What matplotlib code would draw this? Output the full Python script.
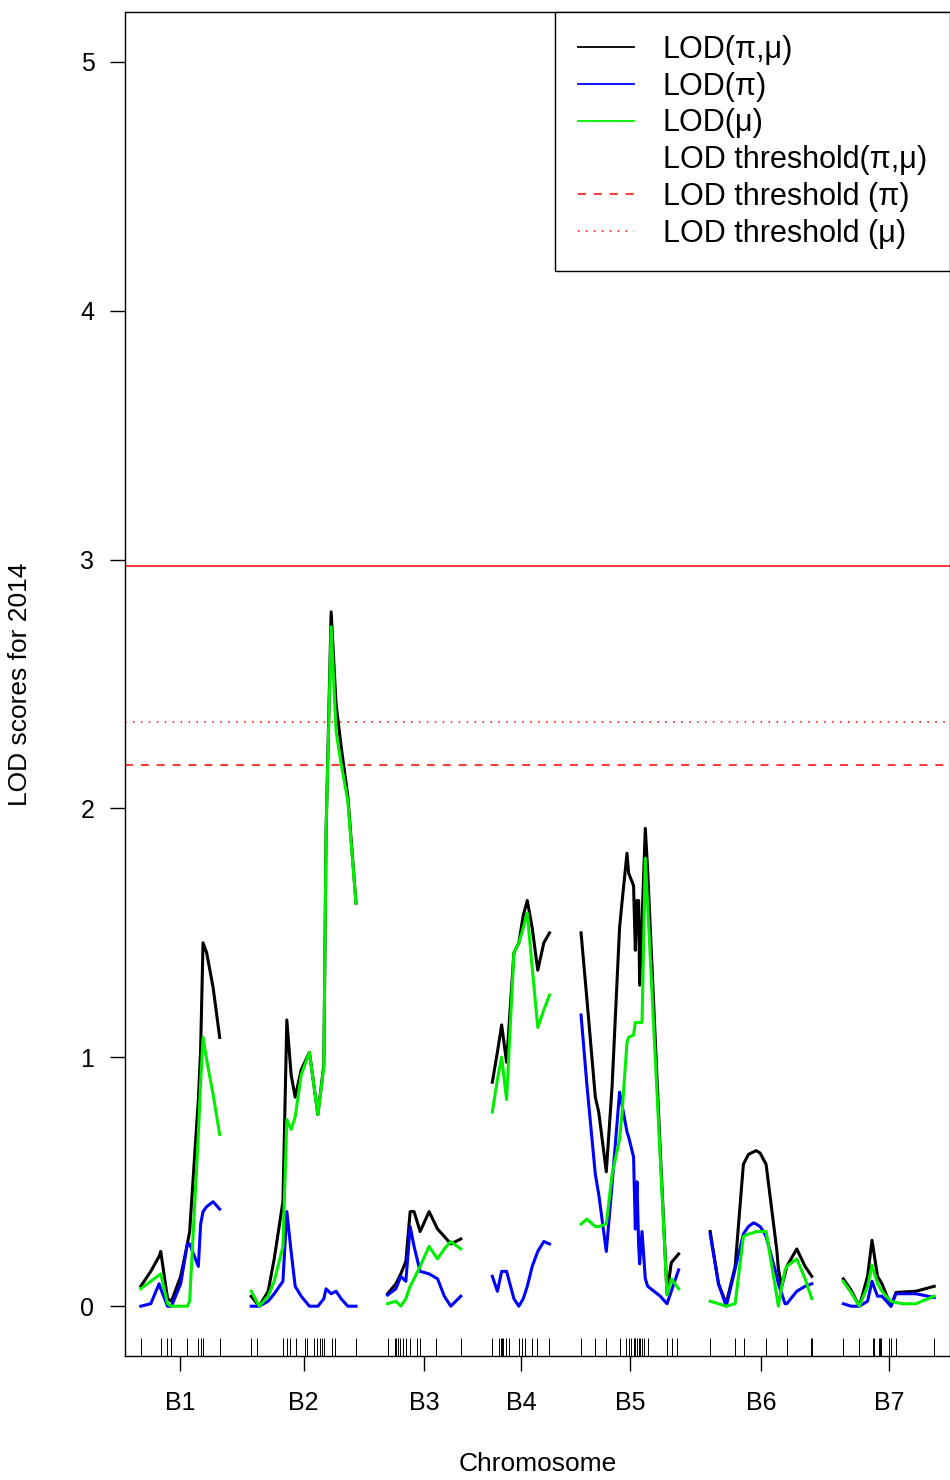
import numpy as np
import matplotlib.pyplot as plt
from matplotlib.lines import Line2D

plt.rcParams['font.family'] = ['Liberation Sans', 'DejaVu Sans']

chroms = ['B1', 'B2', 'B3', 'B4', 'B5', 'B6', 'B7']

# positions (cM) and LOD scores for each chromosome
b1_pos = [0, 7.9, 14.5, 15.8, 21.2, 24.3, 31.6, 36.9, 38.7, 45.6, 47.4, 49.3, 52.2, 57.3, 62.5]
b1_pm = [0.08, 0.14, 0.20, 0.22, 0.03, 0.02, 0.12, 0.25, 0.30, 0.83, 1.03, 1.46, 1.42, 1.28, 1.08]
b1_p = [0.0, 0.01, 0.09, 0.07, 0.0, 0.0, 0.09, 0.25, 0.25, 0.16, 0.33, 0.38, 0.40, 0.42, 0.39]
b1_m = [0.07, 0.10, 0.125, 0.13, 0.01, 0.0, 0.0, 0.0, 0.02, 0.69, 0.90, 1.08, 0.99, 0.85, 0.69]
b1_mk = [0, 15.8, 21.1, 24.3, 36.9, 45.6, 47.4, 49.5, 62.5]

b2_pos = [0, 6.3, 13.4, 18.2, 25.1, 28.2, 31.6, 34.8, 39.6, 46.1, 52.8, 57.5, 59.3, 63.3, 67.2, 71.2, 76.5, 83.0]
b2_pm = [0.04, 0.0, 0.06, 0.19, 0.42, 1.15, 0.93, 0.84, 0.95, 1.02, 0.77, 0.97, 1.91, 2.79, 2.42, 2.25, 2.05, 1.62]
b2_p = [0.0, 0.0, 0.02, 0.05, 0.10, 0.38, 0.22, 0.08, 0.04, 0.0, 0.0, 0.03, 0.07, 0.05, 0.06, 0.03, 0.0, 0.0]
b2_m = [0.06, 0.0, 0.04, 0.10, 0.24, 0.75, 0.71, 0.76, 0.93, 1.02, 0.77, 0.96, 1.91, 2.73, 2.31, 2.18, 2.03, 1.62]
b2_mk = [0, 4.4, 24.8, 28.2, 31.1, 35.3, 42.8, 44.0, 49.9, 51.9, 54.5, 56.2, 57.4, 63.7, 66.5, 82.7]

b3_pos = [0, 6.6, 10.5, 14.5, 17.9, 21.0, 25.8, 32.9, 39.6, 45.0, 50.1, 58.0]
b3_pm = [0.05, 0.09, 0.13, 0.18, 0.38, 0.38, 0.30, 0.38, 0.31, 0.28, 0.25, 0.27]
b3_p = [0.045, 0.07, 0.12, 0.10, 0.32, 0.24, 0.14, 0.13, 0.11, 0.04, 0.0, 0.04]
b3_m = [0.01, 0.02, 0.0, 0.03, 0.08, 0.11, 0.16, 0.24, 0.19, 0.23, 0.26, 0.23]
b3_mk = [0, 5.8, 6.6, 7.9, 8.4, 10.0, 11.9, 14.5, 17.9, 23.7, 25.8, 38.2, 57.9]

b4_pos = [0, 4.0, 7.4, 11.3, 17.1, 21.0, 24.5, 27.7, 31.6, 36.0, 40.8, 45.3]
b4_pm = [0.90, 1.02, 1.13, 0.98, 1.42, 1.46, 1.57, 1.63, 1.52, 1.35, 1.46, 1.50]
b4_p = [0.12, 0.06, 0.14, 0.14, 0.03, 0.0, 0.03, 0.08, 0.16, 0.22, 0.26, 0.25]
b4_m = [0.78, 0.91, 1.00, 0.83, 1.42, 1.46, 1.52, 1.58, 1.36, 1.12, 1.19, 1.25]
b4_mk = [0, 5.2, 6.6, 7.4, 8.7, 10.5, 13.1, 21.0, 23.7, 25.6, 31.6, 35.6, 44.8]

b5_pos = [0, 4.7, 11.3, 14.0, 20.0, 24.6, 30.5, 32.4, 36.4, 37.7, 41.6, 43.0, 44.3, 45.6, 46.4, 48.3,
          50.9, 52.8, 62.8, 68.1, 71.5, 77.3]
b5_pm = [1.50, 1.23, 0.84, 0.78, 0.54, 0.885, 1.52, 1.62, 1.82, 1.74, 1.69, 1.43, 1.63, 1.63, 1.29, 1.55,
         1.92, 1.75, 0.62, 0.05, 0.175, 0.21]
b5_p = [1.17, 0.885, 0.53, 0.45, 0.22, 0.49, 0.86, 0.81, 0.70, 0.68, 0.60, 0.31, 0.50, 0.25, 0.17, 0.30,
        0.11, 0.08, 0.04, 0.01, 0.06, 0.146]
b5_m = [0.33, 0.35, 0.32, 0.32, 0.33, 0.53, 0.67, 0.77, 1.06, 1.08, 1.09, 1.14, 1.14, 1.14, 1.14, 1.14,
        1.80, 1.61, 0.59, 0.045, 0.11, 0.07]
b5_mk = [0, 11.3, 20.0, 30.5, 35.8, 37.7, 39.6, 41.6, 43.0, 44.3, 45.6, 46.9, 48.3, 49.5, 52.7, 68.0, 72.0, 75.9]

b6_pos = [0, 6.6, 12.7, 19.8, 26.3, 30.3, 34.3, 36.4, 39.6, 42.2, 44.3, 52.8, 54.0, 56.7, 59.3, 60.7, 68.6, 75.2, 80.5]
b6_pm = [0.30, 0.09, 0.01, 0.16, 0.57, 0.61, 0.62, 0.625, 0.615, 0.59, 0.57, 0.225, 0.15, 0.08, 0.13, 0.16, 0.23, 0.16, 0.12]
b6_p = [0.29, 0.09, 0.0, 0.15, 0.29, 0.32, 0.335, 0.33, 0.32, 0.30, 0.28, 0.12, 0.09, 0.05, 0.01, 0.01, 0.06, 0.08, 0.09]
b6_m = [0.02, 0.01, 0.0, 0.01, 0.28, 0.29, 0.295, 0.30, 0.30, 0.30, 0.30, 0.04, 0.0, 0.08, 0.145, 0.16, 0.19, 0.11, 0.03]
b6_mk = [0, 19.8, 26.9, 44.3, 60.7, 79.7, 80.5]

b7_pos = [0, 6.1, 12.7, 19.2, 22.7, 27.1, 30.6, 37.7, 41.7, 46.9, 57.5, 72.0]
b7_pm = [0.11, 0.065, 0.0, 0.12, 0.265, 0.12, 0.09, 0.0, 0.055, 0.057, 0.06, 0.08]
b7_p = [0.01, 0.0, 0.0, 0.02, 0.10, 0.04, 0.04, 0.0, 0.05, 0.05, 0.05, 0.035]
b7_m = [0.10, 0.055, 0.0, 0.08, 0.165, 0.09, 0.06, 0.02, 0.015, 0.01, 0.01, 0.04]
b7_mk = [0, 12.1, 23.2, 24.0, 27.9, 29.0, 29.8, 36.4, 37.7, 41.7, 72.0]

pos_list = [b1_pos, b2_pos, b3_pos, b4_pos, b5_pos, b6_pos, b7_pos]
pm_list = [b1_pm, b2_pm, b3_pm, b4_pm, b5_pm, b6_pm, b7_pm]
p_list = [b1_p, b2_p, b3_p, b4_p, b5_p, b6_p, b7_p]
m_list = [b1_m, b2_m, b3_m, b4_m, b5_m, b6_m, b7_m]
mk_list = [b1_mk, b2_mk, b3_mk, b4_mk, b5_mk, b6_mk, b7_mk]

thr_pm = 2.976
thr_p = 2.173
thr_m = 2.349

gap = 25.0
dash = (5.2, 5.2)
dot = (1, 4.2)

fig = plt.figure(figsize=(9.5, 14.8), dpi=100)
ax = fig.add_axes([0.1316, 0.0838, 0.8684, 0.9081])

start = 0.0
mids = []
for i in range(len(chroms)):
    pos = np.array(pos_list[i])
    mk = np.array(mk_list[i])
    length = max(pos.max(), mk.max())
    x = pos + start
    ax.plot(x, pm_list[i], color='black', lw=2.2, solid_joinstyle='round')
    ax.plot(x, p_list[i], color='blue', lw=2.2, solid_joinstyle='round')
    ax.plot(x, m_list[i], color='#00ee00', lw=2.2, solid_joinstyle='round')
    ax.vlines(mk + start, 0, 0.0134, transform=ax.get_xaxis_transform(), color='black', lw=0.7)
    mids.append(start + length / 2)
    start = start + length + gap

ax.set_xlim(-gap / 2, start - gap / 2)
ax.set_ylim(-0.2, 5.2)

ax.axhline(thr_pm, color='red', lw=1.1)
ax.axhline(thr_p, color='red', lw=1.1, dashes=dash)
ax.axhline(thr_m, color='red', lw=1.1, dashes=dot)

ax.set_xticks(mids)
ax.set_xticklabels(chroms)
ax.set_yticks([0, 1, 2, 3, 4, 5])
ax.tick_params(axis='both', length=11, width=1, labelsize=18, direction='out')
ax.tick_params(axis='x', pad=14)
ax.tick_params(axis='y', pad=11)
ax.set_xlabel('Chromosome', fontsize=19, labelpad=27)
ax.set_ylabel('LOD scores for 2014', fontsize=19, labelpad=35)
for s in ax.spines.values():
    s.set_linewidth(1)

handles = [Line2D([], [], color='black', lw=1.3),
           Line2D([], [], color='blue', lw=1.3),
           Line2D([], [], color='#00ee00', lw=1.3),
           Line2D([], [], color='none'),
           Line2D([], [], color='red', lw=1.1, dashes=dash),
           Line2D([], [], color='red', lw=1.1, dashes=dot)]
labels = ['LOD(\u03c0,\u03bc)', 'LOD(\u03c0)', 'LOD(\u03bc)', 'LOD threshold(\u03c0,\u03bc)',
          'LOD threshold (\u03c0)', 'LOD threshold (\u03bc)']
leg = ax.legend(handles, labels, loc='upper right', bbox_to_anchor=(1, 1), borderaxespad=0,
                fontsize=22, frameon=True, fancybox=False, edgecolor='black', framealpha=1,
                handlelength=1.83, handletextpad=0.95, labelspacing=0.22, borderpad=0.75)
leg.get_frame().set_linewidth(1)

plt.savefig('out.png', dpi=100)
